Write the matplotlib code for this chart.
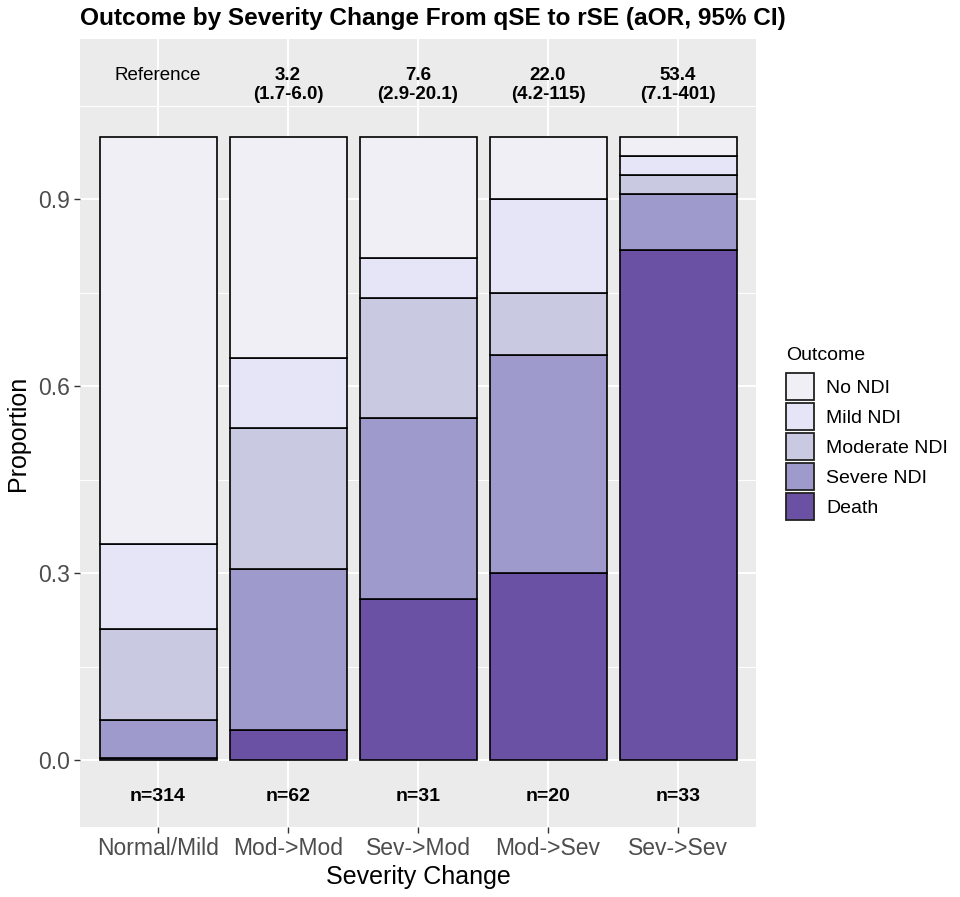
import matplotlib
matplotlib.use("Agg")
import matplotlib.pyplot as plt
from matplotlib.patches import Patch
import numpy as np

plt.rcParams['font.family'] = ['Liberation Sans', 'DejaVu Sans']

categories = ["Normal/Mild", "Mod->Mod", "Sev->Mod", "Mod->Sev", "Sev->Sev"]
n_total = [314, 62, 31, 20, 33]
outcomes = ["Death", "Severe NDI", "Moderate NDI", "Mild NDI", "No NDI"]
# counts per outcome (bottom to top)
death = [1, 3, 8, 6, 27]
severe = [19, 16, 9, 7, 3]
moderate = [46, 14, 6, 2, 1]
mild = [43, 7, 2, 3, 1]
no_ndi = [205, 22, 6, 2, 1]
or_labels = ["Reference", "3.2\n(1.7-6.0)", "7.6\n(2.9-20.1)", "22.0\n(4.2-115)", "53.4\n(7.1-401)"]
colors = {"No NDI": "#F0EFF5", "Mild NDI": "#E5E5F7", "Moderate NDI": "#C9C9E1",
          "Severe NDI": "#9E9ACB", "Death": "#6A51A3"}

W, H = 960, 897
fig = plt.figure(figsize=(W / 100, H / 100), dpi=100)
ax = fig.add_axes([80 / W, (H - 827) / H, 676 / W, 788 / H])
ax.set_facecolor("#EBEBEB")

x = np.arange(len(categories))
series = [death, severe, moderate, mild, no_ndi]
bottom = np.zeros(len(categories))
for name, vals in zip(outcomes, series):
    p = np.array(vals) / np.array(n_total)
    ax.bar(x, p, bottom=bottom, width=0.9, color=colors[name], edgecolor="black",
           linewidth=1.2, zorder=3)
    bottom += p

ax.set_xlim(-0.6, len(categories) - 0.4)
ax.set_ylim(-0.1075, 1.1575)
ax.set_yticks([0, 0.3, 0.6, 0.9])
ax.set_yticklabels(["0.0", "0.3", "0.6", "0.9"])
ax.set_yticks([0.15, 0.45, 0.75, 1.05], minor=True)
ax.set_xticks(x)
ax.set_xticklabels(categories)
ax.grid(True, which="major", color="white", linewidth=1.4, zorder=0)
ax.grid(True, which="minor", axis="y", color="white", linewidth=0.7, zorder=0)
ax.set_axisbelow(True)
for s in ax.spines.values():
    s.set_visible(False)
ax.tick_params(axis="both", which="major", length=4, width=1, color="#333333",
               labelsize=16.5, labelcolor="#4D4D4D", pad=3)
ax.tick_params(axis="both", which="minor", length=0)

ax.set_xlabel("Severity Change", fontsize=18, color="black", labelpad=4)
ax.set_ylabel("Proportion", fontsize=18, color="black", labelpad=6)

for i, lab in enumerate(or_labels):
    ax.text(x[i], 1.112, lab, ha="center", va="top", fontsize=13.5,
            fontweight="normal" if lab == "Reference" else "bold", linespacing=1.12,
            zorder=4)
for i, n in enumerate(n_total):
    ax.text(x[i], -0.058, f"n={n}", ha="center", va="center", fontsize=14,
            fontweight="bold", zorder=4)

fig.text(80 / W, 1 - 25 / H, "Outcome by Severity Change From qSE to rSE (aOR, 95% CI)",
         fontsize=17.6, fontweight="bold", ha="left", va="baseline")

legend_labels = ["No NDI", "Mild NDI", "Moderate NDI", "Severe NDI", "Death"]
handles = [Patch(facecolor=colors[o], edgecolor="#222222", linewidth=1.3)
           for o in legend_labels]
fig.text(786 / W, 1 - 355 / H, "Outcome", fontsize=14, ha="left", va="center")
leg = fig.legend(handles, legend_labels, loc="upper left",
                 bbox_to_anchor=(786 / W, 1 - 373 / H), frameon=False,
                 fontsize=14, handlelength=1.44, handleheight=1.76,
                 handletextpad=0.62, labelspacing=0.16, borderpad=0, borderaxespad=0)

fig.savefig("out.png", dpi=100)
